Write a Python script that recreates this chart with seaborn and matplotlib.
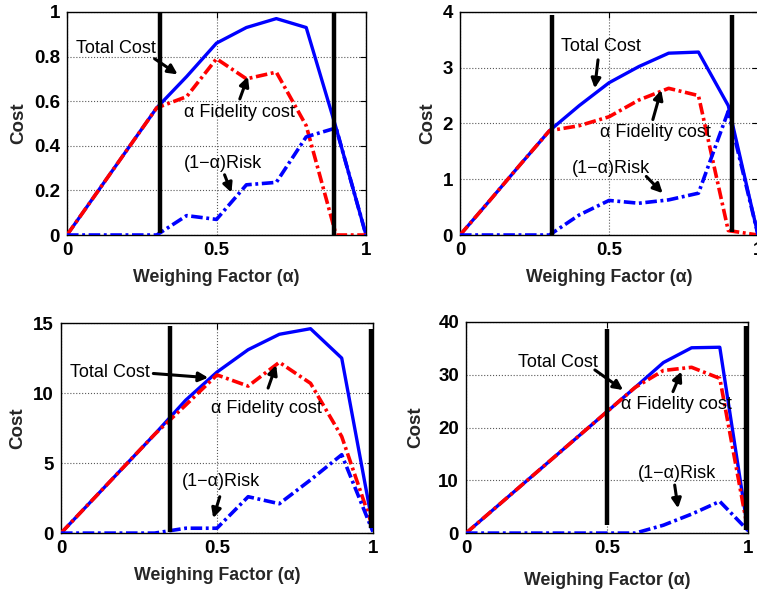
import matplotlib
matplotlib.use('Agg')
import matplotlib.pyplot as plt
import seaborn as sns

sns.set_style('white')
plt.rcParams['font.family'] = ['Liberation Sans', 'DejaVu Sans']

alpha = [0.0, 0.1, 0.2, 0.3, 0.4, 0.5, 0.6, 0.7, 0.8, 0.9, 1.0]

# panel 1
total1 = [0, 0.19, 0.38, 0.57, 0.71, 0.86, 0.93, 0.97, 0.93, 0.48, 0]
fid1 = [0, 0.19, 0.38, 0.57, 0.62, 0.79, 0.70, 0.73, 0.49, 0, 0]
risk1 = [0, 0, 0, 0, 0.087, 0.07, 0.225, 0.236, 0.44, 0.48, 0]
vx1 = [0.31, 0.894]
vlo1 = [0.01, 0.0]
vhi1 = [1.0, 1.0]
yticks1 = [0, 0.2, 0.4, 0.6, 0.8, 1]
yticklabels1 = ['0', '0.2', '0.4', '0.6', '0.8', '1']

# panel 2
total2 = [0, 0.62, 1.25, 1.87, 2.32, 2.73, 3.02, 3.26, 3.28, 2.32, 0]
fid2 = [0, 0.62, 1.25, 1.87, 1.96, 2.12, 2.42, 2.63, 2.50, 0.08, 0]
risk2 = [0, 0, 0, 0, 0.36, 0.62, 0.57, 0.63, 0.75, 2.22, 0]
vx2 = [0.31, 0.913]
vlo2 = [0.0, 0.05]
vhi2 = [3.95, 3.95]
yticks2 = [0, 1, 2, 3, 4]
yticklabels2 = ['0', '1', '2', '3', '4']

# panel 3
total3 = [0, 2.35, 4.7, 7.05, 9.5, 11.5, 13.1, 14.2, 14.6, 12.5, 0.5]
fid3 = [0, 2.35, 4.7, 7.05, 9.15, 11.3, 10.5, 12.2, 10.7, 6.9, 0.4]
risk3 = [0, 0, 0, 0, 0.35, 0.35, 2.6, 2.1, 3.8, 5.6, 0.1]
vx3 = [0.35, 0.993]
vlo3 = [0.1, 0.35]
vhi3 = [14.76, 14.6]
yticks3 = [0, 5, 10, 15]
yticklabels3 = ['0', '5', '10', '15']

# panel 4
total4 = [0, 4.6, 9.2, 13.8, 18.4, 23.0, 27.6, 32.3, 35.1, 35.2, 0.5]
fid4 = [0, 4.6, 9.2, 13.8, 18.4, 23.0, 27.6, 30.8, 31.4, 29.3, 0.4]
risk4 = [0, 0, 0, 0, 0, 0, 0, 1.5, 3.6, 6.0, 0.5]
vx4 = [0.5, 0.994]
vlo4 = [1.6, 0.5]
vhi4 = [38.7, 39.2]
yticks4 = [0, 10, 20, 30, 40]
yticklabels4 = ['0', '10', '20', '30', '40']

xticks = [0, 0.5, 1]
xticklabels = ['0', '0.5', '1']

fig = plt.figure(figsize=(7.57, 5.95), dpi=100)
axes = [fig.add_axes([0.0885, 0.605, 0.395, 0.375]),
        fig.add_axes([0.6077, 0.605, 0.3937, 0.375]),
        fig.add_axes([0.0806, 0.104, 0.412, 0.353]),
        fig.add_axes([0.6156, 0.104, 0.3725, 0.355])]

panels = [(total1, fid1, risk1, vx1, vlo1, vhi1, yticks1, yticklabels1),
          (total2, fid2, risk2, vx2, vlo2, vhi2, yticks2, yticklabels2),
          (total3, fid3, risk3, vx3, vlo3, vhi3, yticks3, yticklabels3),
          (total4, fid4, risk4, vx4, vlo4, vhi4, yticks4, yticklabels4)]

dashdot = (0, (3.2, 1.0, 0.8, 1.0))

for ax, (tot, fid, rsk, vx, vlo, vhi, yt, ytl) in zip(axes, panels):
    sns.lineplot(x=alpha, y=fid, ax=ax, color='red', linewidth=2.6, linestyle=dashdot, zorder=3)
    sns.lineplot(x=alpha, y=rsk, ax=ax, color='blue', linewidth=2.6, linestyle=dashdot, zorder=3)
    sns.lineplot(x=alpha, y=tot, ax=ax, color='blue', linewidth=2.4, zorder=2)
    ax.vlines(vx, vlo, vhi, color='black', linewidth=3.2, zorder=4)
    ax.set_xlim(0, 1)
    ax.set_ylim(yt[0], yt[-1])
    ax.set_xticks(xticks)
    ax.set_xticklabels(xticklabels, fontweight='bold', fontsize=13.5)
    ax.set_yticks(yt)
    ax.set_yticklabels(ytl, fontweight='bold', fontsize=13.5)
    ax.grid(True, linestyle=':', color='0.35', linewidth=0.8)
    ax.tick_params(direction='in', length=4, top=True, right=True, pad=5, colors='black')
    for s in ax.spines.values():
        s.set_color('black')
        s.set_linewidth(1.0)
    ax.set_xlabel('Weighing Factor (α)', fontweight='bold', fontsize=12.8, labelpad=7)
    ax.set_ylabel('Cost', fontweight='bold', fontsize=13.5, labelpad=5)

axes[3].xaxis.labelpad = 11
axes[3].yaxis.labelpad = 10

ann = dict(fontsize=13, color='black')
arr = dict(arrowstyle='-|>', color='black', lw=2.2, mutation_scale=14, shrinkA=0, shrinkB=0)

# panel 1 labels
ax = axes[0]
ax.text(0.03, 0.837, 'Total Cost', va='center', ha='left', **ann)
ax.annotate('', xy=(0.37, 0.72), xytext=(0.293, 0.79), arrowprops=arr)
ax.text(0.39, 0.55, 'α Fidelity cost', va='center', ha='left', **ann)
ax.annotate('', xy=(0.605, 0.71), xytext=(0.578, 0.61), arrowprops=arr)
ax.text(0.39, 0.32, '(1−α)Risk', va='center', ha='left', **ann)
ax.annotate('', xy=(0.55, 0.19), xytext=(0.527, 0.27), arrowprops=arr)

# panel 2 labels
ax = axes[1]
ax.text(0.34, 3.38, 'Total Cost', va='center', ha='left', **ann)
ax.annotate('', xy=(0.452, 2.63), xytext=(0.463, 3.14), arrowprops=arr)
ax.text(0.47, 1.83, 'α Fidelity cost', va='center', ha='left', **ann)
ax.annotate('', xy=(0.675, 2.6), xytext=(0.647, 2.07), arrowprops=arr)
ax.text(0.374, 1.2, '(1−α)Risk', va='center', ha='left', **ann)
ax.annotate('', xy=(0.68, 0.75), xytext=(0.625, 1.05), arrowprops=arr)

# panel 3 labels
ax = axes[2]
ax.text(0.029, 11.5, 'Total Cost', va='center', ha='left', **ann)
ax.annotate('', xy=(0.472, 11.1), xytext=(0.296, 11.4), arrowprops=arr)
ax.text(0.482, 8.93, 'α Fidelity cost', va='center', ha='left', **ann)
ax.annotate('', xy=(0.69, 12.0), xytext=(0.664, 10.36), arrowprops=arr)
ax.text(0.386, 3.7, '(1−α)Risk', va='center', ha='left', **ann)
ax.annotate('', xy=(0.488, 1.07), xytext=(0.509, 2.6), arrowprops=arr)

# panel 4 labels
ax = axes[3]
ax.text(0.185, 32.4, 'Total Cost', va='center', ha='left', **ann)
ax.annotate('', xy=(0.557, 27.1), xytext=(0.457, 30.9), arrowprops=arr)
ax.text(0.551, 24.3, 'α Fidelity cost', va='center', ha='left', **ann)
ax.annotate('', xy=(0.764, 30.6), xytext=(0.734, 26.8), arrowprops=arr)
ax.text(0.61, 11.3, '(1−α)Risk', va='center', ha='left', **ann)
ax.annotate('', xy=(0.752, 4.7), xytext=(0.74, 9.1), arrowprops=arr)

fig.savefig('out.png', dpi=100)
